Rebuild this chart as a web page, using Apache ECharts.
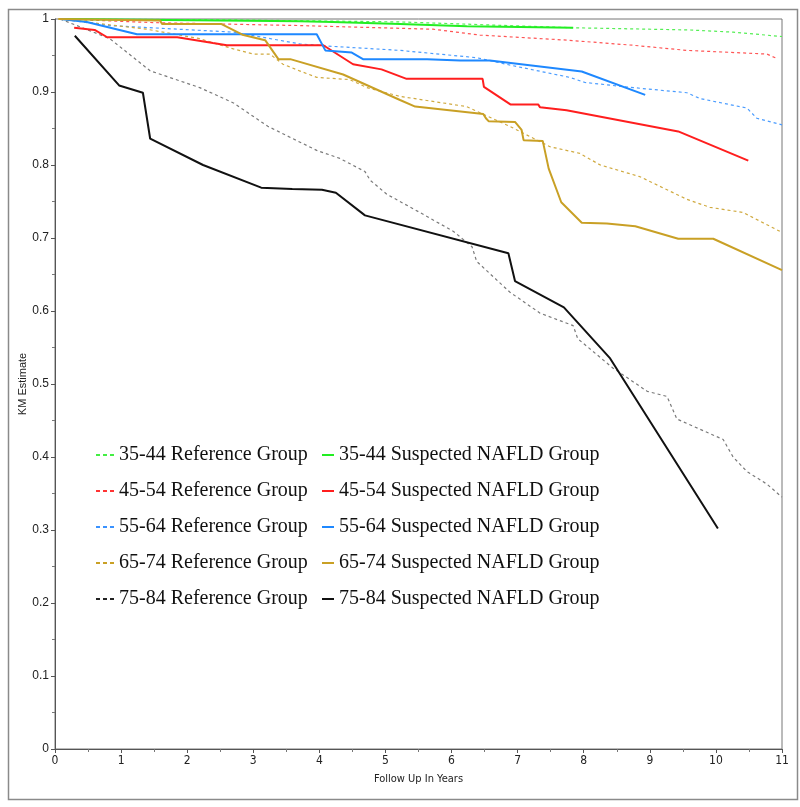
<!DOCTYPE html>
<html lang="en">
<head>
    <meta charset="UTF-8">
    <title>KM Estimate</title>
    <script src="https://cdn.jsdelivr.net/npm/echarts@6/dist/echarts.min.js"></script>
</head>
<body style="margin:0;background:#fff">
    <div id="main" style="width: 800px;height: 807px"></div>
    <script>
        // [years, KM estimate]
        var ref3544 = [[0.08,1.0],[2.5,0.999],[5.22,0.996],[7.84,0.988],[9.6,0.985],[10.26,0.982],[11.0,0.976]];
        var sus3544 = [[0.08,1.0],[2.5,0.998],[3.7,0.997],[4.2,0.996],[5.22,0.993],[6.23,0.990],[7.84,0.988]];
        var ref4554 = [[0.08,1.0],[1.5,0.995],[3.7,0.991],[5.72,0.986],[6.43,0.978],[7.75,0.971],[8.75,0.964],[9.56,0.957],[10.77,0.952],[10.92,0.946]];
        var sus4554 = [[0.29,0.988],[0.6,0.985],[0.79,0.975],[1.85,0.975],[2.39,0.967],[2.6,0.964],[4.06,0.964],[4.51,0.938],[4.94,0.931],[5.32,0.918],
                       [6.47,0.918],[6.49,0.907],[6.89,0.883],[7.31,0.883],[7.34,0.879],[7.74,0.875],[9.43,0.846],[10.49,0.806]];
        var ref5564 = [[0.08,1.0],[0.83,0.991],[2.7,0.982],[3.7,0.966],[4.11,0.963],[5.22,0.957],[6.38,0.947],[6.93,0.936],[7.79,0.920],[8.02,0.913],
                       [8.75,0.906],[9.56,0.899],[9.76,0.891],[10.47,0.878],[10.62,0.864],[11.0,0.855]];
        var sus5564 = [[0.08,1.0],[0.48,0.996],[1.24,0.979],[3.96,0.979],[4.09,0.957],[4.49,0.954],[4.66,0.945],[5.63,0.945],[6.13,0.943],[6.58,0.943],
                       [7.97,0.928],[8.93,0.896]];
        var ref6574 = [[0.08,1.0],[1.39,0.986],[2.19,0.973],[2.7,0.959],[3.0,0.952],[3.25,0.952],[3.45,0.938],[3.7,0.929],[3.96,0.920],[4.46,0.917],
                       [4.72,0.906],[5.22,0.894],[6.23,0.880],[6.88,0.853],[7.49,0.825],[7.94,0.816],[8.25,0.800],[8.85,0.784],[9.56,0.753],[9.91,0.742],
                       [10.41,0.735],[10.97,0.709]];
        var sus6574 = [[0.05,1.0],[1.59,0.998],[1.62,0.993],[2.52,0.993],[2.85,0.978],[3.18,0.971],[3.38,0.945],[3.56,0.945],[4.36,0.924],[5.22,0.889],
                       [5.45,0.880],[6.48,0.870],[6.52,0.864],[6.56,0.860],[6.96,0.859],[7.06,0.848],[7.09,0.834],[7.38,0.833],[7.47,0.795],[7.66,0.749],
                       [7.97,0.721],[8.35,0.720],[8.78,0.716],[9.43,0.699],[9.96,0.699],[11.0,0.656]];
        var ref7584 = [[0.08,1.0],[0.83,0.973],[1.44,0.929],[2.19,0.906],[2.7,0.885],[3.22,0.853],[3.96,0.820],[4.31,0.809],[4.69,0.791],[4.77,0.779],
                       [5.02,0.760],[5.52,0.735],[6.03,0.709],[6.31,0.688],[6.38,0.668],[6.88,0.626],[7.34,0.597],[7.84,0.580],[7.91,0.562],[8.44,0.522],
                       [8.96,0.490],[9.26,0.483],[9.41,0.452],[10.11,0.424],[10.26,0.400],[10.47,0.380],[10.77,0.363],[11.0,0.345]];
        var sus7584 = [[0.30,0.977],[0.97,0.909],[1.33,0.899],[1.44,0.836],[2.24,0.800],[3.12,0.769],[3.59,0.767],[4.04,0.766],[4.25,0.762],[4.69,0.731],
                       [6.86,0.679],[6.96,0.641],[7.70,0.605],[8.40,0.535],[10.03,0.302]];

        var ages = ['35-44', '45-54', '55-64', '65-74', '75-84'];
        var colors = ['#22ee22', '#ff1e1e', '#1e88ff', '#c9a025', '#111111'];
        var refColors = ['#55ee55', '#ff5555', '#4a9cff', '#d0aa40', '#7a7a7a'];
        var legendRefColors = ['#44ee44', '#ff3333', '#3a92ff', '#c9a025', '#222222'];
        var refData = [ref3544, ref4554, ref5564, ref6574, ref7584];
        var susData = [sus3544, sus4554, sus5564, sus6574, sus7584];

        var refNames = ages.map(function (a) { return a + ' Reference Group'; });
        var susNames = ages.map(function (a) { return a + ' Suspected NAFLD Group'; });

        var series = [];
        ages.forEach(function (a, i) {
            series.push({
                name: refNames[i], type: 'line', data: refData[i], symbol: 'none',
                lineStyle: { color: refColors[i], width: 1.2, type: [3, 3] },
                itemStyle: { color: refColors[i] }
            });
        });
        ages.forEach(function (a, i) {
            series.push({
                name: susNames[i], type: 'line', data: susData[i], symbol: 'none',
                lineStyle: { color: colors[i], width: 2 },
                itemStyle: { color: colors[i] }
            });
        });

        var legendText = { fontFamily: 'Liberation Serif', fontSize: 20, color: '#111', lineHeight: 24 };
        var dashIcon = 'path://M0,0h4v2h-4zM7,0h4v2h-4zM14,0h4v2h-4z';
        var solidIcon = 'path://M0,0h12v2h-12z';

        var mCharts = echarts.init(document.getElementById('main'));
        var option = {
            animation: false,
            backgroundColor: '#fff',
            graphic: [{
                type: 'rect', left: 6, top: 7,
                shape: { width: 789, height: 790 },
                style: { fill: 'none', stroke: '#8a8a8a', lineWidth: 1.5 }
            }],
            grid: { left: 55, right: 18, top: 19, bottom: 58, show: true, borderColor: '#777', borderWidth: 1 },
            legend: [{
                orient: 'vertical', left: 91, top: 438, itemWidth: 18, itemHeight: 2, itemGap: 12,
                data: refNames.map(function (n, i) {
                    return { name: n, icon: dashIcon, itemStyle: { color: legendRefColors[i] } };
                }),
                textStyle: legendText, selectedMode: false
            }, {
                orient: 'vertical', left: 317, top: 438, itemWidth: 12, itemHeight: 2.5, itemGap: 12,
                data: susNames.map(function (n) { return { name: n, icon: solidIcon }; }),
                textStyle: legendText, selectedMode: false
            }],
            xAxis: {
                type: 'value', min: 0, max: 11, interval: 1,
                name: 'Follow Up In Years', nameLocation: 'middle', nameGap: 25,
                nameTextStyle: { fontFamily: "'DejaVu Sans Condensed', 'Liberation Sans', sans-serif", fontSize: 11, color: '#222' },
                axisLine: { lineStyle: { color: '#555' } },
                axisTick: { length: 4, lineStyle: { color: '#555' } },
                minorTick: { show: true, splitNumber: 2, length: 3, lineStyle: { color: '#777' } },
                axisLabel: { fontFamily: "'DejaVu Sans Condensed', 'Liberation Sans', sans-serif", fontSize: 12, color: '#222', margin: 6 },
                splitLine: { show: false }
            },
            yAxis: {
                type: 'value', min: 0, max: 1, interval: 0.1,
                name: 'KM Estimate', nameLocation: 'middle', nameGap: 27, nameMoveOverlap: false,
                nameTextStyle: { fontFamily: 'Liberation Sans', fontSize: 11, color: '#222' },
                axisLine: { show: true, lineStyle: { color: '#555' } },
                axisTick: { show: true, length: 4, lineStyle: { color: '#555' } },
                minorTick: { show: true, splitNumber: 2, length: 3, lineStyle: { color: '#777' } },
                axisLabel: { fontFamily: 'Liberation Sans', fontSize: 12, color: '#222', margin: 6 },
                splitLine: { show: false }
            },
            series: series
        };
        mCharts.setOption(option);
    </script>
</body>
</html>
